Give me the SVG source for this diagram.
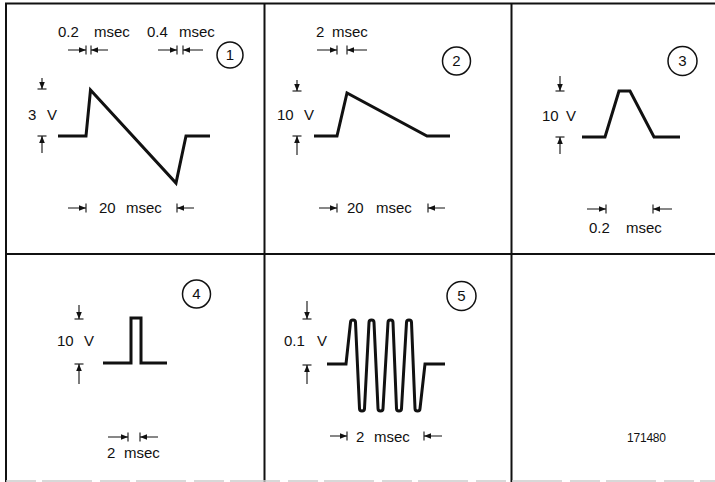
<svg xmlns="http://www.w3.org/2000/svg" xmlns:xlink="http://www.w3.org/1999/xlink" width="715" height="482" viewBox="0 0 715 482">
<style>
text{font-family:"Liberation Sans",Arial,sans-serif;font-size:15px;fill:#111}
.grid{stroke:#111;stroke-width:2;fill:none}
.wave{stroke:#111;stroke-width:3;fill:none;stroke-linejoin:miter}
.dim{stroke:#111;stroke-width:1.1;fill:none}
.num{stroke:#111;stroke-width:1.5;fill:none}
.cn{text-anchor:middle}
.tip path{stroke:#111;stroke-width:1.1}
.tip polygon{fill:#111}
</style>
<defs>
<g id="tip" class="tip"><path d="M0,-4.5V4.5"/><polygon points="0,0 -7,-2.8 -7,2.8"/></g>
</defs>
<rect width="715" height="482" fill="#fff"/>
<g id="grid">
<path class="grid" d="M5,3.5H715M6,3V482M264.5,3V482M511.5,3V482M6,254H715"/>
<path d="M6,481H715" stroke="#ccc" stroke-width="1.5" stroke-dasharray="30,6,50,8"/>
</g>
<g id="panel1">
<circle class="num" cx="230" cy="55" r="13"/><text class="cn" x="230" y="60">1</text>
<text x="58" y="37">0.2<tspan x="94">msec</tspan></text>
<text x="147" y="37">0.4<tspan x="179">msec</tspan></text>
<path class="dim" d="M68,50H86M91,50H108M158,50H177M183,50H203M42,78V89M42,136V153M68,208H86M177,208H194"/>
<use xlink:href="#tip" transform="translate(86,50)"/>
<use xlink:href="#tip" transform="translate(91,50) rotate(180)"/>
<use xlink:href="#tip" transform="translate(177,50)"/>
<use xlink:href="#tip" transform="translate(183,50) rotate(180)"/>
<use xlink:href="#tip" transform="translate(42,89) rotate(90)"/>
<use xlink:href="#tip" transform="translate(42,136) rotate(-90)"/>
<use xlink:href="#tip" transform="translate(86,208)"/>
<use xlink:href="#tip" transform="translate(177,208) rotate(180)"/>
<text x="28" y="120">3<tspan x="47">V</tspan></text>
<text x="99" y="213">20<tspan x="126">msec</tspan></text>
<path class="wave" d="M58,136H86L90.5,90L176,183L186,136H210"/>
</g>
<g id="panel2">
<circle class="num" cx="456.5" cy="61" r="14"/><text class="cn" x="456.5" y="66">2</text>
<text x="316" y="37">2<tspan x="332">msec</tspan></text>
<path class="dim" d="M317,50H337M347,50H367M297,80V91M297,136V155M319,208H337M428,208H445"/>
<use xlink:href="#tip" transform="translate(337,50)"/>
<use xlink:href="#tip" transform="translate(347,50) rotate(180)"/>
<use xlink:href="#tip" transform="translate(297,91) rotate(90)"/>
<use xlink:href="#tip" transform="translate(297,136) rotate(-90)"/>
<use xlink:href="#tip" transform="translate(337,208)"/>
<use xlink:href="#tip" transform="translate(428,208) rotate(180)"/>
<text x="277" y="120">10<tspan x="304">V</tspan></text>
<text x="347" y="213">20<tspan x="376">msec</tspan></text>
<path class="wave" d="M314,136H337L347,93L427,136H450"/>
</g>
<g id="panel3">
<circle class="num" cx="682.5" cy="61" r="14.5"/><text class="cn" x="682.5" y="66">3</text>
<path class="dim" d="M560,76V91M560,137V154M587,209H606M653,209H672"/>
<use xlink:href="#tip" transform="translate(560,91) rotate(90)"/>
<use xlink:href="#tip" transform="translate(560,137) rotate(-90)"/>
<use xlink:href="#tip" transform="translate(606,209)"/>
<use xlink:href="#tip" transform="translate(653,209) rotate(180)"/>
<text x="542" y="121">10<tspan x="566">V</tspan></text>
<text x="589" y="233">0.2<tspan x="626">msec</tspan></text>
<path class="wave" d="M582,137H605L619,91H630L654,137H680"/>
</g>
<g id="panel4">
<circle class="num" cx="196.5" cy="294" r="14"/><text class="cn" x="196.5" y="299">4</text>
<path class="dim" d="M79,305V319M79,364V384M108,437H128M140,437H158"/>
<use xlink:href="#tip" transform="translate(79,319) rotate(90)"/>
<use xlink:href="#tip" transform="translate(79,364) rotate(-90)"/>
<use xlink:href="#tip" transform="translate(128,437)"/>
<use xlink:href="#tip" transform="translate(140,437) rotate(180)"/>
<text x="57" y="346">10<tspan x="84">V</tspan></text>
<text x="107" y="458">2<tspan x="124">msec</tspan></text>
<path class="wave" d="M103,363H131V318H141V363H167"/>
</g>
<g id="panel5">
<circle class="num" cx="461.5" cy="296" r="14.5"/><text class="cn" x="461.5" y="301">5</text>
<path class="dim" d="M307,301V319M307,365V384M330,436H347M424,436H442"/>
<use xlink:href="#tip" transform="translate(307,319) rotate(90)"/>
<use xlink:href="#tip" transform="translate(307,365) rotate(-90)"/>
<use xlink:href="#tip" transform="translate(347,436)"/>
<use xlink:href="#tip" transform="translate(424,436) rotate(180)"/>
<text x="284" y="346">0.1<tspan x="317">V</tspan></text>
<text x="356" y="442">2<tspan x="374">msec</tspan></text>
<path class="wave" d="M327,364H346L350.5,322.5A2.5,2.5 0 0 1 355.5,322.5L359.5,408.5A2.5,2.5 0 0 0 364.5,408.5L369,322.5A2.5,2.5 0 0 1 374,322.5L378,408.5A2.5,2.5 0 0 0 383,408.5L388,322.5A2.5,2.5 0 0 1 393,322.5L396.5,408.5A2.5,2.5 0 0 0 401.5,408.5L406.5,322.5A2.5,2.5 0 0 1 411.5,322.5L415,408.5A2.5,2.5 0 0 0 420,408.5L425,364H445"/>
</g>
<g id="panel6">
<text x="627" y="442" style="font-size:12px" textLength="39">171480</text>
</g>
</svg>
